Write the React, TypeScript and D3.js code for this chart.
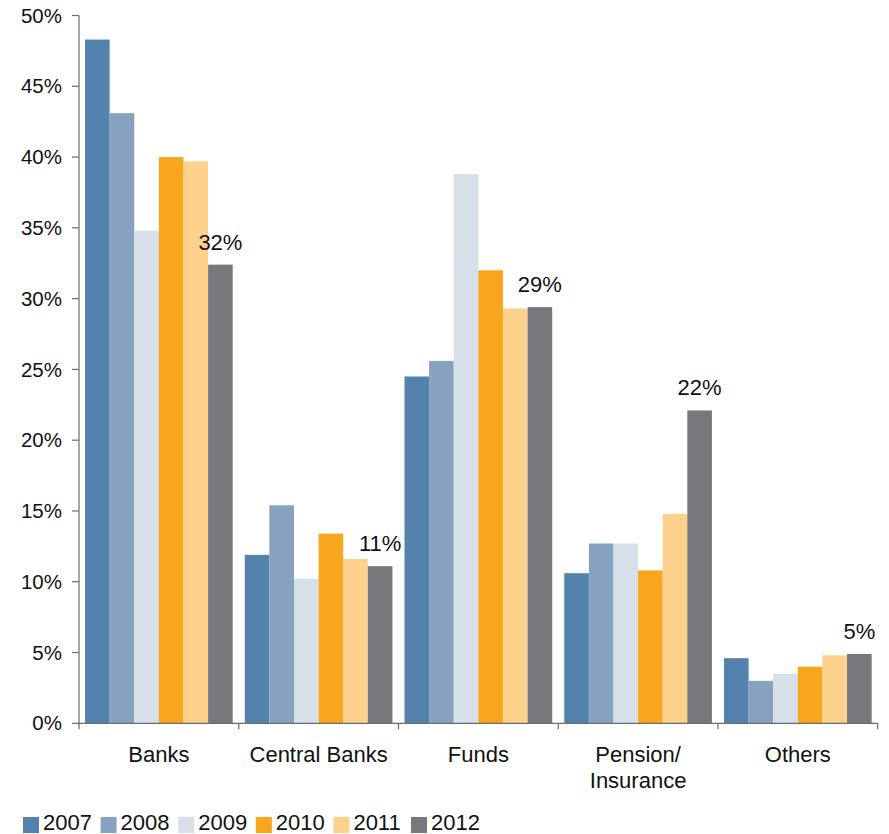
import React from "react";
import * as d3 from "d3";

const categories = ["Banks", "Central Banks", "Funds", "Pension/\nInsurance", "Others"];
const years = ["2007", "2008", "2009", "2010", "2011", "2012"];
const colors = ["#5382ad", "#87a2c0", "#d7dfe9", "#f8a61d", "#fcd18b", "#77787c"];

const v2007 = [48.3, 11.9, 24.5, 10.6, 4.6];
const v2008 = [43.1, 15.4, 25.6, 12.7, 3.0];
const v2009 = [34.8, 10.2, 38.8, 12.7, 3.5];
const v2010 = [40.0, 13.4, 32.0, 10.8, 4.0];
const v2011 = [39.7, 11.6, 29.3, 14.8, 4.8];
const v2012 = [32.4, 11.1, 29.4, 22.1, 4.9];
const series = [v2007, v2008, v2009, v2010, v2011, v2012];

const labels2012 = ["32%", "11%", "29%", "22%", "5%"];
const yTicks = [0, 5, 10, 15, 20, 25, 30, 35, 40, 45, 50];

const W = 889;
const H = 834;
const FONT = "'Liberation Sans', Arial, Helvetica, sans-serif";

export default function App() {
  const x0 = d3.scaleBand<number>().domain(d3.range(categories.length)).range([79, 877.7]).paddingInner(0).paddingOuter(0);
  const x1 = d3.scaleBand<number>().domain(d3.range(years.length)).range([0, x0.bandwidth()]).paddingInner(0).paddingOuter(0.245);
  const y = d3.scaleLinear().domain([0, 50]).range([723.3, 15.5]);
  const axisColor = "#6b6b6b";
  const boundaries = d3.range(categories.length + 1).map((i) => 79 + i * x0.step());

  return (
    <svg width={W} height={H} style={{ position: "absolute", left: 0, top: 0, background: "#fff" }} fontFamily={FONT}>
      {/* bars */}
      {categories.map((c, ci) => (
        <g key={c} transform={`translate(${x0(ci)},0)`}>
          {series.map((s, si) => (
            <rect
              key={si}
              x={x1(si)}
              y={y(s[ci])}
              width={x1.bandwidth()}
              height={y(0) - y(s[ci])}
              fill={colors[si]}
            />
          ))}
          <text
            x={(x1(5) as number) + x1.bandwidth() / 2}
            y={y(v2012[ci]) - 15}
            textAnchor="middle"
            fontSize={22}
            fill="#111"
          >
            {labels2012[ci]}
          </text>
        </g>
      ))}
      {/* y axis */}
      <line x1={79} x2={79} y1={y(50)} y2={y(0)} stroke={axisColor} strokeWidth={1.2} />
      {yTicks.map((t) => (
        <g key={t}>
          <line x1={72} x2={79} y1={y(t)} y2={y(t)} stroke={axisColor} strokeWidth={1.2} />
          <text x={62} y={y(t)} dy="0.35em" textAnchor="end" fontSize={20.5} fill="#111">
            {`${t}%`}
          </text>
        </g>
      ))}
      {/* x axis */}
      <line x1={79} x2={877.7} y1={y(0)} y2={y(0)} stroke={axisColor} strokeWidth={1.2} />
      {boundaries.map((b, i) => (
        <line key={i} x1={b} x2={b} y1={y(0)} y2={y(0) + 6} stroke={axisColor} strokeWidth={1.2} />
      ))}
      {categories.map((c, ci) => (
        <text key={c} x={(x0(ci) as number) + x0.bandwidth() / 2} y={762} textAnchor="middle" fontSize={22} fill="#111">
          {c.split("\n").map((line, li) => (
            <tspan key={li} x={(x0(ci) as number) + x0.bandwidth() / 2} dy={li === 0 ? 0 : 26}>
              {line}
            </tspan>
          ))}
        </text>
      ))}
      {/* legend */}
      {years.map((yr, i) => (
        <g key={yr} transform={`translate(${23 + i * 77.6},0)`}>
          <rect x={0} y={817} width={16} height={16} fill={colors[i]} />
          <text x={20} y={829.5} fontSize={22} fill="#111">
            {yr}
          </text>
        </g>
      ))}
    </svg>
  );
}
